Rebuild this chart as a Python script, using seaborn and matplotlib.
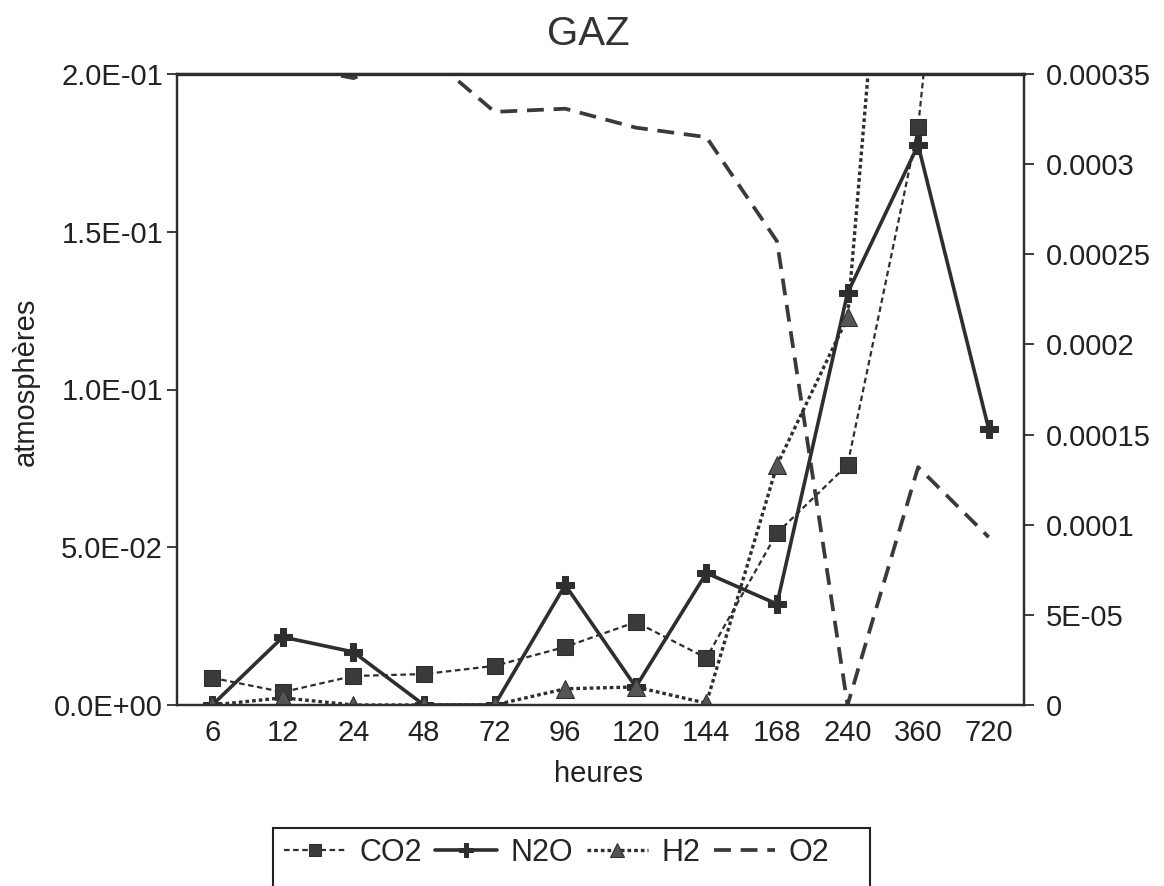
import numpy as np
import pandas as pd
import matplotlib
matplotlib.use("Agg")
import matplotlib.pyplot as plt
import seaborn as sns
from matplotlib.patches import Rectangle
from matplotlib.ticker import FixedLocator, FixedFormatter

# Sampling times (hours) and gas measurements
hours = ["6", "12", "24", "48", "72", "96", "120", "144", "168", "240", "360", "720"]
co2 = [0.0086, 0.0041, 0.0092, 0.0098, 0.0124, 0.0184, 0.0263, 0.0149, 0.0545, 0.0761, 0.1832, 0.40]
o2 = [0.210, 0.203, 0.1987, 0.207, 0.188, 0.189, 0.183, 0.180, 0.147, 0.0, 0.0754, 0.0532]
n2o = [0.0, 3.77e-5, 2.94e-5, 0.0, 0.0, 6.66e-5, 1.0e-5, 7.32e-5, 5.6e-5, 2.285e-4, 3.106e-4, 1.531e-4]
h2 = [0.0, 4e-6, 0.0, 0.0, 0.0, 9e-6, 1.0e-5, 1e-6, 1.33e-4, 2.15e-4, 6.8e-4, np.nan]

left_ticks = [0.0, 0.05, 0.10, 0.15, 0.20]
left_labels = ["0.0E+00", "5.0E-02", "1.0E-01", "1.5E-01", "2.0E-01"]
right_ticks = [0.0, 5e-5, 1e-4, 1.5e-4, 2e-4, 2.5e-4, 3e-4, 3.5e-4]
right_labels = ["0", "5E-05", "0.0001", "0.00015", "0.0002", "0.00025", "0.0003", "0.00035"]

sns.set_style("white")
plt.rcParams["font.family"] = ["Liberation Sans", "DejaVu Sans"]

INK = "#2e2e2e"
TXT = "#222222"
df = pd.DataFrame({"pos": np.arange(len(hours)), "co2": co2, "o2": o2, "n2o": n2o, "h2": h2})

W, H = 1164, 886
fig = plt.figure(figsize=(W / 100, H / 100), dpi=100)
ax = fig.add_axes([177 / W, 1 - 705 / H, 847 / W, 631 / H])
ax2 = ax.twinx()

# Left axis: CO2 and O2 ; right axis: N2O and H2
sns.lineplot(data=df, x="pos", y="co2", ax=ax, color=INK, lw=1.6,
             linestyle=(0, (2.5, 1.6)), marker="s", markersize=11,
             markeredgecolor=INK, markerfacecolor="#3a3a3a", legend=False)
l_co2 = ax.lines[-1]
sns.lineplot(data=df, x="pos", y="o2", ax=ax, color="#3a3a3a", lw=2.7,
             linestyle=(0, (4.5, 2.6)), legend=False)
l_o2 = ax.lines[-1]
sns.lineplot(data=df, x="pos", y="n2o", ax=ax2, color=INK, lw=2.6,
             marker="P", markersize=13, markeredgecolor=INK,
             markerfacecolor=INK, legend=False)
l_n2o = ax2.lines[-1]
sns.lineplot(data=df, x="pos", y="h2", ax=ax2, color=INK, lw=2.4,
             linestyle=(0, (1.1, 0.9)), marker="^", markersize=13,
             markeredgecolor=INK, markerfacecolor="#555555", legend=False)
l_h2 = ax2.lines[-1]

ax.set_xlim(-0.5, len(hours) - 0.5)
ax.set_ylim(0, 0.2)
ax2.set_ylim(0, 3.5e-4)

ax.xaxis.set_major_locator(FixedLocator(df["pos"].tolist()))
ax.xaxis.set_major_formatter(FixedFormatter(hours))
ax.yaxis.set_major_locator(FixedLocator(left_ticks))
ax.yaxis.set_major_formatter(FixedFormatter(left_labels))
ax2.yaxis.set_major_locator(FixedLocator(right_ticks))
ax2.yaxis.set_major_formatter(FixedFormatter(right_labels))

for a in (ax, ax2):
    a.tick_params(axis="both", direction="out", length=7, width=1.3,
                  color=INK, labelsize=21, labelcolor=TXT, pad=3)
    for s in a.spines.values():
        s.set_color(INK)
        s.set_linewidth(1.6)
    a.set_xlabel("")
    a.set_ylabel("")
ax2.tick_params(axis="y", pad=9)
ax.spines["top"].set_linewidth(2.4)

ax.set_xlabel("heures", fontsize=21, color=TXT)
ax.xaxis.set_label_coords(0.4976, -0.087)
ax.set_ylabel("atmosphères", fontsize=21, color=TXT)
ax.yaxis.set_label_coords(-0.162, 0.512)

fig.text(588 / W, 1 - 34 / H, "GAZ", fontsize=29, color="#333333",
         ha="center", va="center")

leg = fig.legend([l_co2, l_n2o, l_h2, l_o2], ["CO2", "N2O", "H2", "O2"],
                 loc="center left", bbox_to_anchor=(269 / W, 1 - 853 / H),
                 ncol=4, frameon=False, fontsize=22, handlelength=2.0,
                 handletextpad=0.45, columnspacing=0.45, markerscale=0.75,
                 borderpad=0.0)
fig.canvas.draw()
bb = leg.get_window_extent().transformed(fig.transFigure.inverted())
x0 = bb.x0 - 11 / W
x1 = bb.x1 + 40 / W
top = 1 - 828 / H
fig.add_artist(Rectangle((x0, -0.05), x1 - x0, top + 0.05,
                         transform=fig.transFigure, fill=False, lw=1.5, ec=TXT))

fig.savefig("out.png", dpi=100)
